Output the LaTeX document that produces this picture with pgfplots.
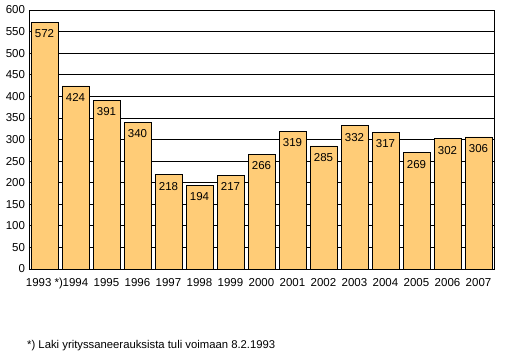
\documentclass[border=0pt]{standalone}
\usepackage{pgfplots}
\pgfplotsset{compat=1.18}
\usepackage{fontspec}
\setmainfont{Liberation Sans}
\definecolor{barfill}{HTML}{FFCC77}
\begin{document}
\begin{tikzpicture}
\fontsize{11.5bp}{13bp}\selectfont
\path (0,0) rectangle (520bp,354bp);
\begin{axis}[
  at={(29bp,85bp)}, anchor=south west,
  width=465bp, height=259bp, scale only axis,
  xmin=-0.5, xmax=14.5, ymin=0, ymax=600,
  ytick={0,50,...,600},
  xtick={0,...,14},
  xticklabels={1993 *),1994,1995,1996,1997,1998,1999,2000,2001,2002,2003,2004,2005,2006,2007},
  ymajorgrids, major grid style={black, line width=0.8bp},
  axis line style={black, line width=0.8bp},
  major tick length=0pt,
  tick label style={font=\fontsize{11.5bp}{13bp}\selectfont},
  /pgf/number format/assume math mode=true,
  yticklabel style={xshift=0bp},
  xticklabel style={yshift=-5bp},
  ybar, bar width=27bp,
  nodes near coords,
  nodes near coords style={anchor=north, yshift=-7bp, inner sep=0pt, font=\fontsize{11.5bp}{13bp}\selectfont, black},
  nodes near coords align={below},
]
\addplot[draw=black, line width=0.8bp, fill=barfill, bar shift=0pt] coordinates {
(0,572) (1,424) (2,391) (3,340) (4,218) (5,194) (6,217) (7,266) (8,319) (9,285) (10,332) (11,317) (12,269) (13,302) (14,306)};
\end{axis}
\node[anchor=west, inner sep=0pt] at (27bp,8bp) {\fontsize{11.3bp}{13bp}\selectfont *) Laki yrityssaneerauksista tuli voimaan 8.2.1993};
\end{tikzpicture}
\end{document}
